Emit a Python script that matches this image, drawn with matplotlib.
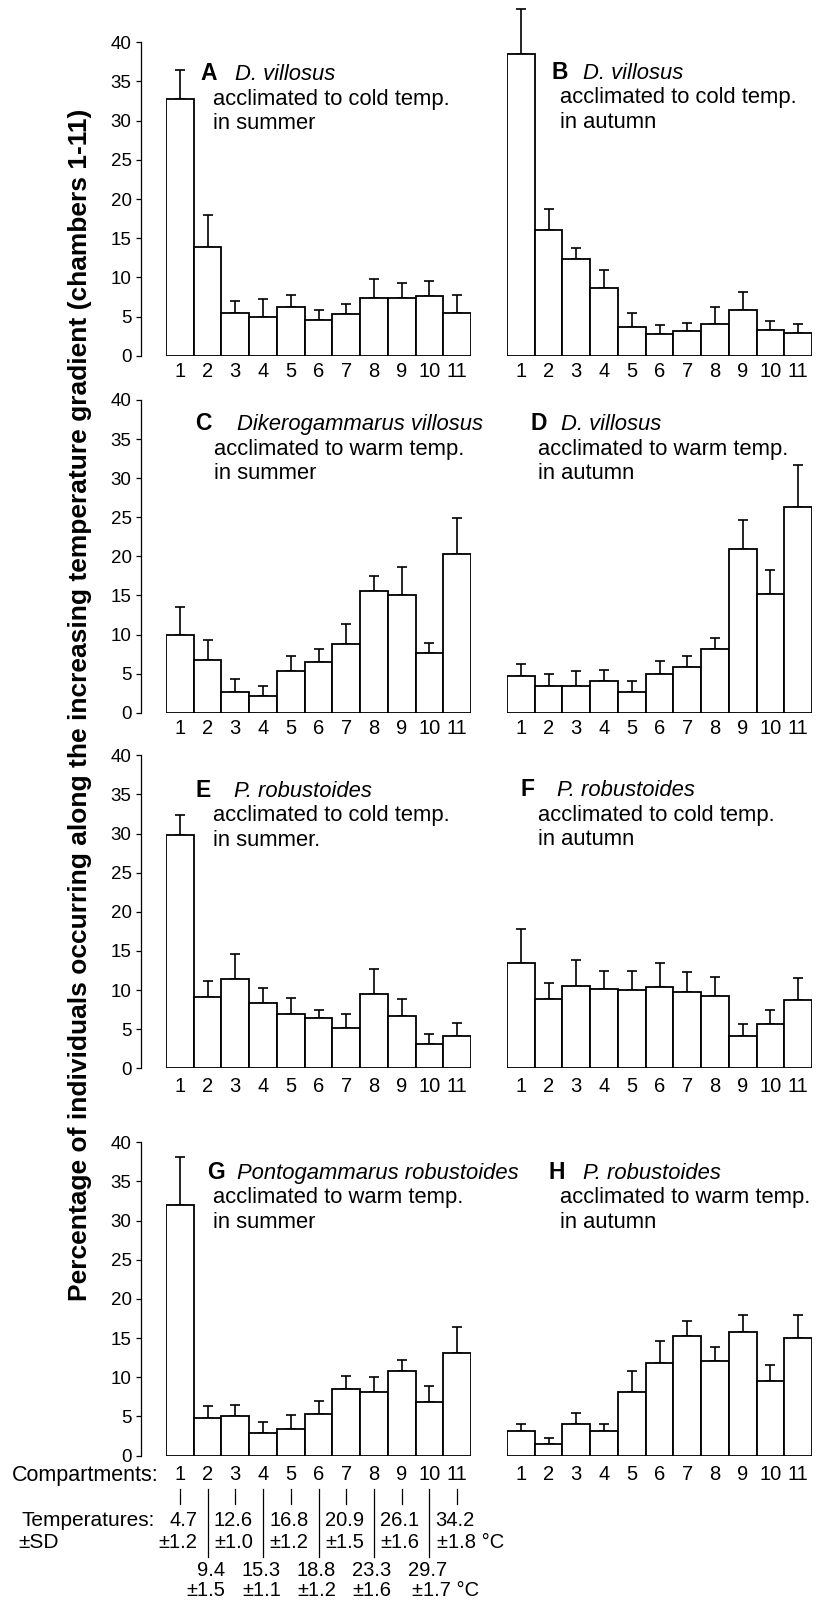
import matplotlib
matplotlib.use("Agg")
import matplotlib.pyplot as plt
import matplotlib.transforms as mtransforms
import numpy as np

plt.rcParams['font.family'] = ['Liberation Sans', 'DejaVu Sans']

compartments = ['1', '2', '3', '4', '5', '6', '7', '8', '9', '10', '11']

# Means and upper error-bar tops (mean + SE) for each panel
A_mean = [32.7, 13.9, 5.4, 5.0, 6.25, 4.6, 5.3, 7.4, 7.4, 7.6, 5.4]
A_top = [36.5, 17.9, 7.0, 7.3, 7.8, 5.8, 6.6, 9.75, 9.3, 9.5, 7.8]
B_mean = [38.5, 16.1, 12.3, 8.7, 3.7, 2.8, 3.15, 4.1, 5.8, 3.3, 2.9]
B_top = [44.2, 18.7, 13.8, 10.9, 5.4, 3.9, 4.2, 6.2, 8.1, 4.4, 4.0]
C_mean = [10.0, 6.8, 2.7, 2.2, 5.3, 6.5, 8.8, 15.6, 15.0, 7.7, 20.3]
C_top = [13.5, 9.3, 4.35, 3.4, 7.3, 8.2, 11.3, 17.45, 18.7, 8.9, 24.9]
D_mean = [4.7, 3.4, 3.4, 4.0, 2.7, 5.0, 5.8, 8.1, 21.0, 15.2, 26.3]
D_top = [6.2, 4.95, 5.3, 5.4, 4.0, 6.6, 7.3, 9.6, 24.6, 18.3, 31.7]
E_mean = [29.8, 9.07, 11.45, 8.4, 7.0, 6.4, 5.2, 9.5, 6.7, 3.07, 4.1]
E_top = [32.4, 11.1, 14.6, 10.3, 9.0, 7.45, 6.9, 12.7, 8.9, 4.4, 5.75]
F_mean = [13.5, 8.9, 10.55, 10.1, 10.0, 10.35, 9.75, 9.2, 4.1, 5.6, 8.7]
F_top = [17.8, 10.9, 13.9, 12.4, 12.4, 13.5, 12.3, 11.7, 5.66, 7.45, 11.5]
G_mean = [32.0, 4.8, 5.0, 2.85, 3.4, 5.25, 8.5, 8.15, 10.8, 6.8, 13.1]
G_top = [38.1, 6.3, 6.5, 4.3, 5.2, 6.95, 10.1, 10.0, 12.2, 8.9, 16.4]
H_mean = [3.07, 1.5, 4.0, 3.07, 8.05, 11.85, 15.25, 12.06, 15.8, 9.55, 15.0]
H_top = [3.96, 2.2, 5.4, 4.0, 10.8, 14.6, 17.2, 13.9, 18.0, 11.5, 17.9]

panel_letters = ['A', 'B', 'C', 'D', 'E', 'F', 'G', 'H']
panel_species = ['D. villosus', 'D. villosus', 'Dikerogammarus villosus', 'D. villosus',
                 'P. robustoides', 'P. robustoides', 'Pontogammarus robustoides', 'P. robustoides']
panel_line2 = ['acclimated to cold temp.', 'acclimated to cold temp.',
               'acclimated to warm temp.', 'acclimated to warm temp.',
               'acclimated to cold temp.', 'acclimated to cold temp.',
               'acclimated to warm temp.', 'acclimated to warm temp.']
panel_line3 = ['in summer', 'in autumn', 'in summer', 'in autumn',
               'in summer.', 'in autumn', 'in summer', 'in autumn']

odd_comp = [1, 3, 5, 7, 9, 11]
odd_temp = ['4.7', '12.6', '16.8', '20.9', '26.1', '34.2']
odd_sd = ['±1.2', '±1.0', '±1.2', '±1.5', '±1.6', '±1.8']
even_comp = [2, 4, 6, 8, 10]
even_temp = ['9.4', '15.3', '18.8', '23.3', '29.7']
even_sd = ['±1.5', '±1.1', '±1.2', '±1.6', '±1.7']

means = [A_mean, B_mean, C_mean, D_mean, E_mean, F_mean, G_mean, H_mean]
tops = [A_top, B_top, C_top, D_top, E_top, F_top, G_top, H_top]

W, H = 826, 1600
fig = plt.figure(figsize=(W / 100, H / 100), dpi=100)


def fx(px):
    return px / W


def fy(py):
    return 1 - py / H


# axes geometry in pixels: (left, right, top(40), bottom(0))
col_x = [(166, 471), (507, 812)]
row_y = [(42.3, 355.7), (400, 712.7), (755.3, 1068.3), (1142.3, 1455.5)]

# title positions: letter x, species x, line2 x, baseline y
title_pos = [
    (200.7, 235, 212.7, 80),
    (551.7, 583, 560, 79),
    (195, 236.7, 214, 430),
    (530, 560.7, 538.3, 430),
    (195.7, 234, 213.3, 796.7),
    (520.7, 557.3, 537.7, 796),
    (206.7, 236.7, 213.3, 1179),
    (549, 582.7, 560, 1179),
]

TFS = 15.8   # title font size
x = np.arange(1, 12)
axes = []
for i in range(8):
    r, c = divmod(i, 2)
    l, rr = col_x[c]
    t, b = row_y[r]
    ax = fig.add_axes([fx(l), fy(b), fx(rr) - fx(l), (b - t) / H])
    axes.append(ax)
    m = np.array(means[i])
    tp = np.array(tops[i])
    ax.bar(x, m, width=1.0, color='white', edgecolor='black', linewidth=1.3, zorder=2)
    eb = ax.errorbar(x, m, yerr=[np.zeros_like(m), tp - m], fmt='none', ecolor='black',
                     elinewidth=1.2, capsize=3.5, capthick=1.2, zorder=1)
    for art in eb.lines[1]:
        art.set_clip_on(False)
    for coll in eb.lines[2]:
        coll.set_clip_on(False)
    ax.set_xlim(0.5, 11.5)
    ax.set_ylim(0, 40)
    for s in ['top', 'right', 'bottom']:
        ax.spines[s].set_visible(False)
    ax.set_xticks(x)
    ax.set_xticklabels(compartments, fontsize=14.5)
    ax.tick_params(axis='x', length=0, pad=4.5 if r < 2 else 6.5)
    if c == 0:
        ax.spines['left'].set_position(('outward', 18))
        ax.spines['left'].set_bounds(0, 40)
        ax.spines['left'].set_linewidth(0.9)
        ax.set_yticks(np.arange(0, 41, 5))
        ax.tick_params(axis='y', length=3.8, width=0.9, pad=3.0, labelsize=13.5)
    else:
        ax.spines['left'].set_visible(False)
        ax.set_yticks([])
    ax.patch.set_alpha(0)

    lx, sx, tx, by = title_pos[i]
    fig.text(fx(lx), fy(by), panel_letters[i], fontsize=16.5, fontweight='bold',
             ha='left', va='baseline')
    fig.text(fx(sx), fy(by), panel_species[i], fontsize=TFS, style='italic',
             ha='left', va='baseline')
    fig.text(fx(tx), fy(by + 24.5), panel_line2[i], fontsize=TFS, ha='left', va='baseline')
    fig.text(fx(tx), fy(by + 49), panel_line3[i], fontsize=TFS, ha='left', va='baseline')

# y label
fig.text(fx(80), fy(705),
         'Percentage of individuals occurring along the increasing temperature gradient (chambers 1-11)',
         rotation=90, ha='center', va='center', fontsize=19, fontweight='bold')

# Compartments / temperatures annotation below panel G
axG = axes[6]
tr = mtransforms.blended_transform_factory(axG.transData, fig.transFigure)
fig.text(fx(12), fy(1476), 'Compartments:', fontsize=15.5, ha='left', va='center')
fig.text(fx(21), fy(1520), 'Temperatures:', fontsize=15, ha='left', va='center')
fig.text(fx(18), fy(1543), '±SD', fontsize=15, ha='left', va='center')

for cx in odd_comp:
    axG.plot([cx, cx], [fy(1489), fy(1504)], transform=tr, color='black', lw=0.9, clip_on=False)
for cx in even_comp:
    axG.plot([cx, cx], [fy(1489), fy(1557)], transform=tr, color='black', lw=0.9, clip_on=False)

TS = 14.5
off = 0.64
for k, (cx, t, s) in enumerate(zip(odd_comp, odd_temp, odd_sd)):
    axG.text(cx + off, fy(1520), t, transform=tr, fontsize=TS, ha='right', va='center')
    if k == len(odd_comp) - 1:
        axG.text(cx - 0.72, fy(1542), s + ' °C', transform=tr, fontsize=TS, ha='left', va='center')
    else:
        axG.text(cx + off, fy(1542), s, transform=tr, fontsize=TS, ha='right', va='center')
for k, (cx, t, s) in enumerate(zip(even_comp, even_temp, even_sd)):
    axG.text(cx + off, fy(1570), t, transform=tr, fontsize=TS, ha='right', va='center')
    if k == len(even_comp) - 1:
        axG.text(cx - 0.64, fy(1591), s + ' °C', transform=tr, fontsize=TS, ha='left', va='center')
    else:
        axG.text(cx + off, fy(1591), s, transform=tr, fontsize=TS, ha='right', va='center')

fig.savefig('out.png', dpi=100, facecolor='white')
